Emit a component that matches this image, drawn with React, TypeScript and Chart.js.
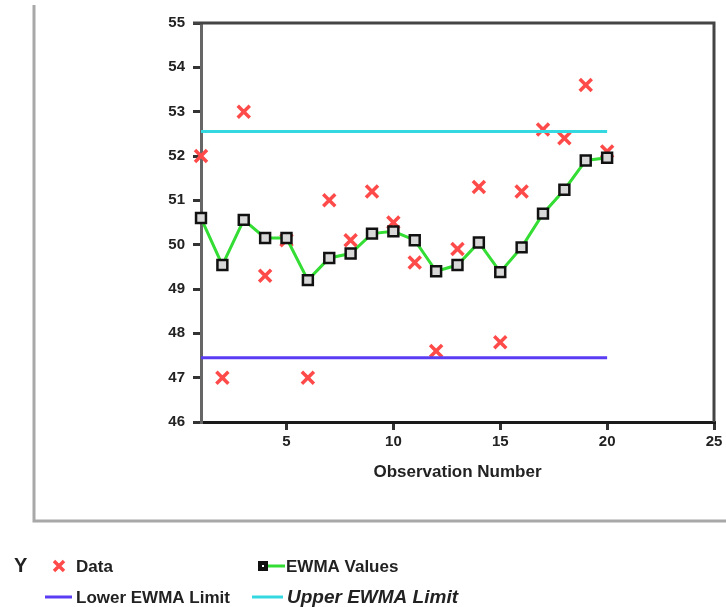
import React, { useEffect, useRef } from 'react';
import { Chart, registerables } from 'chart.js';

Chart.register(...registerables);

const observations = [1, 2, 3, 4, 5, 6, 7, 8, 9, 10, 11, 12, 13, 14, 15, 16, 17, 18, 19, 20];
const dataValues = [52.0, 47.0, 53.0, 49.3, 50.1, 47.0, 51.0, 50.1, 51.2, 50.5, 49.6, 47.6, 49.9, 51.3, 47.8, 51.2, 52.6, 52.4, 53.6, 52.1];
const ewmaValues = [50.6, 49.54, 50.56, 50.15, 50.15, 49.2, 49.7, 49.8, 50.25, 50.3, 50.1, 49.4, 49.54, 50.05, 49.38, 49.94, 50.7, 51.24, 51.9, 51.96];
const lowerLimit = 47.45;
const upperLimit = 52.55;
const xTicks = [5, 10, 15, 20, 25];
const yTicks = [46, 47, 48, 49, 50, 51, 52, 53, 54, 55];

const FONT = '"Liberation Sans", Arial, sans-serif';
const RED = '#ff4a4a';
const GREEN = '#33dd33';
const BLUE = '#5a3cf5';
const CYAN = '#33d8e0';

const framePlugin = {
  id: 'frameAndLegend',
  beforeDraw(chart: any) {
    const ctx = chart.ctx;
    ctx.save();
    ctx.strokeStyle = '#a8a8a8';
    ctx.lineWidth = 3;
    ctx.beginPath();
    ctx.moveTo(34, 5);
    ctx.lineTo(34, 521);
    ctx.lineTo(726, 521);
    ctx.stroke();
    ctx.restore();
  },
  afterDraw(chart: any) {
    const ctx = chart.ctx;
    const a = chart.chartArea;
    ctx.save();
    ctx.strokeStyle = '#444';
    ctx.lineWidth = 3;
    ctx.beginPath();
    ctx.moveTo(a.left - 8, a.top);
    ctx.lineTo(a.right, a.top);
    ctx.lineTo(a.right, a.bottom);
    ctx.stroke();

    ctx.fillStyle = '#222';
    ctx.textBaseline = 'middle';
    ctx.textAlign = 'left';
    ctx.font = `bold 20px ${FONT}`;
    ctx.fillText('Y', 14, 566);

    ctx.font = `bold 17px ${FONT}`;
    ctx.strokeStyle = RED;
    ctx.lineWidth = 3.5;
    ctx.beginPath();
    ctx.moveTo(54, 561); ctx.lineTo(64, 571);
    ctx.moveTo(64, 561); ctx.lineTo(54, 571);
    ctx.stroke();
    ctx.fillStyle = '#222';
    ctx.fillText('Data', 76, 567);

    ctx.strokeStyle = GREEN;
    ctx.lineWidth = 3;
    ctx.beginPath();
    ctx.moveTo(266, 566); ctx.lineTo(285, 566);
    ctx.stroke();
    ctx.fillStyle = '#111';
    ctx.fillRect(258, 561, 10, 10);
    ctx.fillStyle = '#fff';
    ctx.fillRect(262, 565, 2, 2);
    ctx.fillStyle = '#222';
    ctx.fillText('EWMA Values', 286, 567);

    ctx.strokeStyle = BLUE;
    ctx.beginPath();
    ctx.moveTo(45, 597); ctx.lineTo(72, 597);
    ctx.stroke();
    ctx.fillText('Lower EWMA Limit', 76, 598);

    ctx.strokeStyle = CYAN;
    ctx.beginPath();
    ctx.moveTo(252, 597); ctx.lineTo(283, 597);
    ctx.stroke();
    ctx.font = `italic bold 19px ${FONT}`;
    ctx.fillText('Upper EWMA Limit', 287, 598);
    ctx.restore();
  },
};

export default function App() {
  const ref = useRef<HTMLCanvasElement | null>(null);

  useEffect(() => {
    if (!ref.current) return;
    const lastObs = observations[observations.length - 1];
    const chart = new Chart(ref.current, {
      type: 'scatter',
      data: {
        datasets: [
          {
            label: 'Upper EWMA Limit',
            data: [{ x: observations[0], y: upperLimit }, { x: lastObs, y: upperLimit }],
            showLine: true,
            borderColor: CYAN,
            borderWidth: 3,
            pointRadius: 0,
            clip: false,
          },
          {
            label: 'Lower EWMA Limit',
            data: [{ x: observations[0], y: lowerLimit }, { x: lastObs, y: lowerLimit }],
            showLine: true,
            borderColor: BLUE,
            borderWidth: 3,
            pointRadius: 0,
            clip: false,
          },
          {
            label: 'EWMA Values',
            data: observations.map((o, i) => ({ x: o, y: ewmaValues[i] })),
            showLine: true,
            borderColor: GREEN,
            borderWidth: 3,
            pointStyle: 'rect',
            pointRadius: 7,
            pointBorderColor: '#111',
            pointBorderWidth: 2.5,
            pointBackgroundColor: '#d8d8d8',
            clip: false,
          },
          {
            label: 'Data',
            data: observations.map((o, i) => ({ x: o, y: dataValues[i] })),
            showLine: false,
            pointStyle: 'crossRot',
            pointRadius: 8.5,
            pointBorderColor: RED,
            pointBorderWidth: 3.5,
            borderColor: RED,
            clip: false,
          },
        ],
      },
      options: {
        responsive: false,
        animation: false,
        layout: { padding: { left: 0, top: 23, right: 10, bottom: 123 } },
        plugins: {
          legend: { display: false },
          tooltip: { enabled: false },
        },
        scales: {
          x: {
            type: 'linear',
            min: 1,
            max: 25,
            afterBuildTicks: (s: any) => { s.ticks = xTicks.map((v) => ({ value: v })); },
            afterFit: (s: any) => { s.height = 62; },
            grid: { drawOnChartArea: false, drawTicks: true, tickLength: 8, color: '#333', lineWidth: 3 },
            border: { display: true, color: '#1a1a1a', width: 3 },
            ticks: { color: '#222', padding: 3, font: { family: FONT, size: 15, weight: 'bold' }, maxRotation: 0 },
            title: {
              display: true,
              text: 'Observation Number',
              color: '#222',
              font: { family: FONT, size: 17, weight: 'bold' },
              padding: { top: 0, bottom: 1 },
            },
          },
          y: {
            type: 'linear',
            min: 46,
            max: 55,
            afterBuildTicks: (s: any) => { s.ticks = yTicks.map((v) => ({ value: v })); },
            afterFit: (s: any) => { s.width = 201; },
            grid: { drawOnChartArea: false, drawTicks: true, tickLength: 8, color: '#333', lineWidth: 3 },
            border: { display: true, color: '#666', width: 3 },
            ticks: { color: '#222', padding: 8, font: { family: FONT, size: 15, weight: 'bold' } },
          },
        },
      },
      plugins: [framePlugin],
    } as any);
    return () => chart.destroy();
  }, []);

  return (
    <div style={{ position: 'fixed', left: 0, top: 0, width: 726, height: 607, background: '#fff' }}>
      <canvas ref={ref} width={726} height={607} style={{ width: 726, height: 607, display: 'block' }} />
    </div>
  );
}
